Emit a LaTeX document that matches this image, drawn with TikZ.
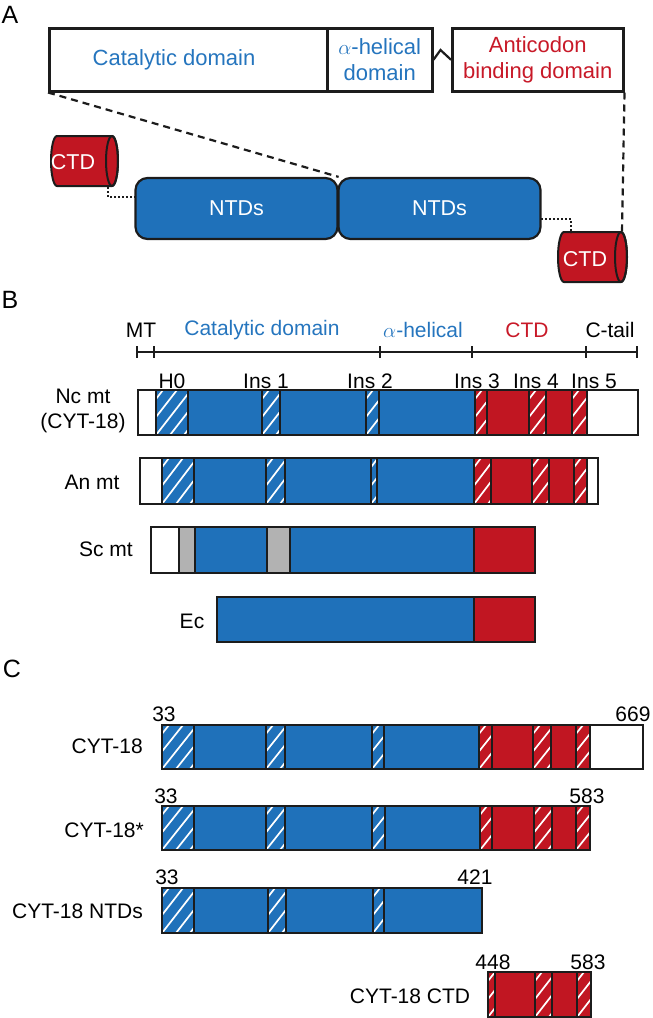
\documentclass[tikz,border=0pt]{standalone}
\usepackage{fontspec}
\setmainfont{Liberation Sans}
\usetikzlibrary{calc}
\definecolor{pblue}{RGB}{31,113,186}
\definecolor{pred}{RGB}{193,22,34}
\definecolor{tblue}{RGB}{37,117,190}
\definecolor{tred}{RGB}{200,25,40}
\definecolor{pgray}{RGB}{178,178,178}
\definecolor{linec}{RGB}{28,28,28}
\newcommand{\segm}[6]{%
  \fill[#5] (#1,#3) rectangle (#2,#4);
  \ifnum#6=1
    \begin{scope}
      \clip (#1,#3) rectangle (#2,#4);
      \foreach \k in {-3,...,3}{\draw[white,line width=1.7] ({#1+\k*14},#4) -- ++(35,{#3-#4});}
    \end{scope}
  \fi
  \draw[linec,line width=2.5] (#1,#3) rectangle (#2,#4);}
\newcommand{\protbar}[3]{\foreach \xa/\xb/\co/\ha in {#3}{\segm{\xa}{\xb}{#1}{#2}{\co}{\ha}}}
\newcommand{\cyl}[4]{% x0 xe ytop ybot
  \path[fill=pred,draw=linec,line width=2] ({#1+6},#3)
    arc[start angle=270,end angle=90,x radius=6,y radius={(#4-#3)/2}] -- (#2,#4)
    arc[start angle=90,end angle=-90,x radius=6,y radius={(#4-#3)/2}] -- cycle;
  \draw[linec,line width=2] (#2,{(#3+#4)/2}) ellipse[x radius=6,y radius={(#4-#3)/2}];}
\begin{document}
\begin{tikzpicture}[x=1pt,y=-1pt,
  lbl/.style={font=\fontsize{21}{25}\selectfont,inner sep=0,text=black},
  big/.style={font=\fontsize{25}{28}\selectfont,inner sep=0},
  abox/.style={draw=linec,line width=2.5,fill=white,inner sep=0,anchor=north west,minimum height=63,font=\fontsize{22}{26}\selectfont,align=center},
  atxt/.style={font=\fontsize{22}{26}\selectfont,inner sep=0},
  ntd/.style={draw=linec,line width=2.2,fill=pblue,rounded corners=12,minimum width=202,minimum height=61,text=white,font=\fontsize{21.5}{25}\selectfont},
  dashc/.style={linec,line width=2.2,dash pattern=on 7pt off 5pt},
  dotc/.style={linec,line width=2,dash pattern=on 2pt off 2pt}]
\useasboundingbox (0,0) rectangle (653,1018);
% ---------- A ----------
\node[big] (labA) at (10,15) {A};
\node[abox,minimum width=278] (cat) at (48,27) {};
\node[atxt,text=tblue] (catT) at (174,60) {Catalytic domain};
\node[abox,minimum width=105,text=tblue] (hel) at (326,27) {$\alpha$-helical\\domain};
\node[abox,minimum width=171,text=tred] (acb) at (451,27) {Anticodon\\binding domain};
\coordinate (zz) at (440.5,50);
\draw[linec,line width=2.2] (hel.east) -- (zz) -- (acb.west);
\node[ntd] (ntdL) at (236.5,208.5) {NTDs};
\node[ntd] (ntdR) at (439.5,208.5) {NTDs};
\cyl{51}{112}{136}{186}
\node[lbl,text=white,font=\fontsize{21.5}{25}\selectfont] (ctdL) at (73,162) {CTD};
\cyl{558}{621}{232}{282}
\node[lbl,text=white,font=\fontsize{21.5}{25}\selectfont] (ctdR) at (585,259) {CTD};
\coordinate (ctdLb) at (108,187);
\coordinate (ntdLc) at (135,197);
\coordinate (ntdRc) at (541,219);
\coordinate (ctdRt) at (571,233);
\coordinate (ctdRtop) at (622,232);
\draw[dashc] (cat.south west) -- (ntdL.north east);
\draw[dashc] (acb.south east) -- (ctdRtop);
\draw[dotc] (ctdLb) |- (ntdLc);
\draw[dotc] (ntdRc) -| (ctdRt);
% ---------- B ----------
\node[big] (labB) at (10,300) {B};
\draw[linec,line width=2] (137,352) -- (637,352);
\foreach \t in {137,154,380,472,586,637}{\draw[linec,line width=2] (\t,346) -- (\t,358);}
\node[lbl] (hMT) at (141,330) {MT};
\node[lbl,text=tblue] (hCat) at (262,330) {Catalytic domain};
\node[lbl,text=tblue] (hHel) at (423,330) {$\alpha$-helical};
\node[lbl,text=tred] (hCTD) at (527,330) {CTD};
\node[lbl] (hTail) at (610,330) {C-tail};
\node[lbl] (iH0) at (172,381) {H0};
\node[lbl] (i1) at (266,381) {Ins 1};
\node[lbl] (i2) at (370,381) {Ins 2};
\node[lbl] (i3) at (477,381) {Ins 3};
\node[lbl] (i4) at (536,381) {Ins 4};
\node[lbl] (i5) at (594,381) {Ins 5};
\node[lbl,align=center] (nc) at (83,411) {Nc mt\\(CYT-18)};
\protbar{390}{435}{138/156/white/0,156/188/pblue/1,188/262/pblue/0,262/280/pblue/1,280/366/pblue/0,366/379/pblue/1,379/475/pblue/0,475/487/pred/1,487/529/pred/0,529/546/pred/1,546/572/pred/0,572/587/pred/1,587/638/white/0}
\node[lbl] (an) at (92,482) {An mt};
\protbar{458}{504}{140/162/white/0,162/194/pblue/1,194/266/pblue/0,266/285/pblue/1,285/371/pblue/0,371/377/pblue/1,377/474/pblue/0,474/491/pred/1,491/532/pred/0,532/549/pred/1,549/574/pred/0,574/587/pred/1,587/598/white/0}
\node[lbl] (sc) at (106,549) {Sc mt};
\protbar{527}{573}{151/179/white/0,179/195/pgray/0,195/267/pblue/0,267/290/pgray/0,290/474/pblue/0,474/535/pred/0}
\node[lbl] (ec) at (192,621) {Ec};
\protbar{597}{642}{217/474/pblue/0,474/535/pred/0}
% ---------- C ----------
\node[big] (labC) at (12,669) {C};
\node[lbl,anchor=east] (c1) at (143,746) {CYT-18};
\node[lbl] (n1a) at (164,714) {33};
\node[lbl] (n1b) at (633,714) {669};
\protbar{725}{769}{162/194/pblue/1,194/266/pblue/0,266/285/pblue/1,285/372/pblue/0,372/384/pblue/1,384/479/pblue/0,479/492/pred/1,492/533/pred/0,533/551/pred/1,551/576/pred/0,576/590/pred/1,590/643/white/0}
\node[lbl,anchor=east] (c2) at (144,830) {CYT-18*};
\node[lbl] (n2a) at (166,796) {33};
\node[lbl] (n2b) at (587,796) {583};
\protbar{806}{850}{162/194/pblue/1,194/266/pblue/0,266/285/pblue/1,285/372/pblue/0,372/385/pblue/1,385/480/pblue/0,480/492/pred/1,492/534/pred/0,534/552/pred/1,552/576/pred/0,576/590/pred/1}
\node[lbl,anchor=east] (c3) at (143,911) {CYT-18 NTDs};
\node[lbl] (n3a) at (167,877) {33};
\node[lbl] (n3b) at (475,877) {421};
\protbar{888}{933}{162/194/pblue/1,194/268/pblue/0,268/286/pblue/1,286/373/pblue/0,373/384/pblue/1,384/482/pblue/0}
\node[lbl] (c4) at (410,996) {CYT-18 CTD};
\node[lbl] (n4a) at (493,962) {448};
\node[lbl] (n4b) at (588,962) {583};
\protbar{972}{1017}{488/495/pred/1,495/535/pred/0,535/552/pred/1,552/577/pred/0,577/591/pred/1}
\end{tikzpicture}
\end{document}
